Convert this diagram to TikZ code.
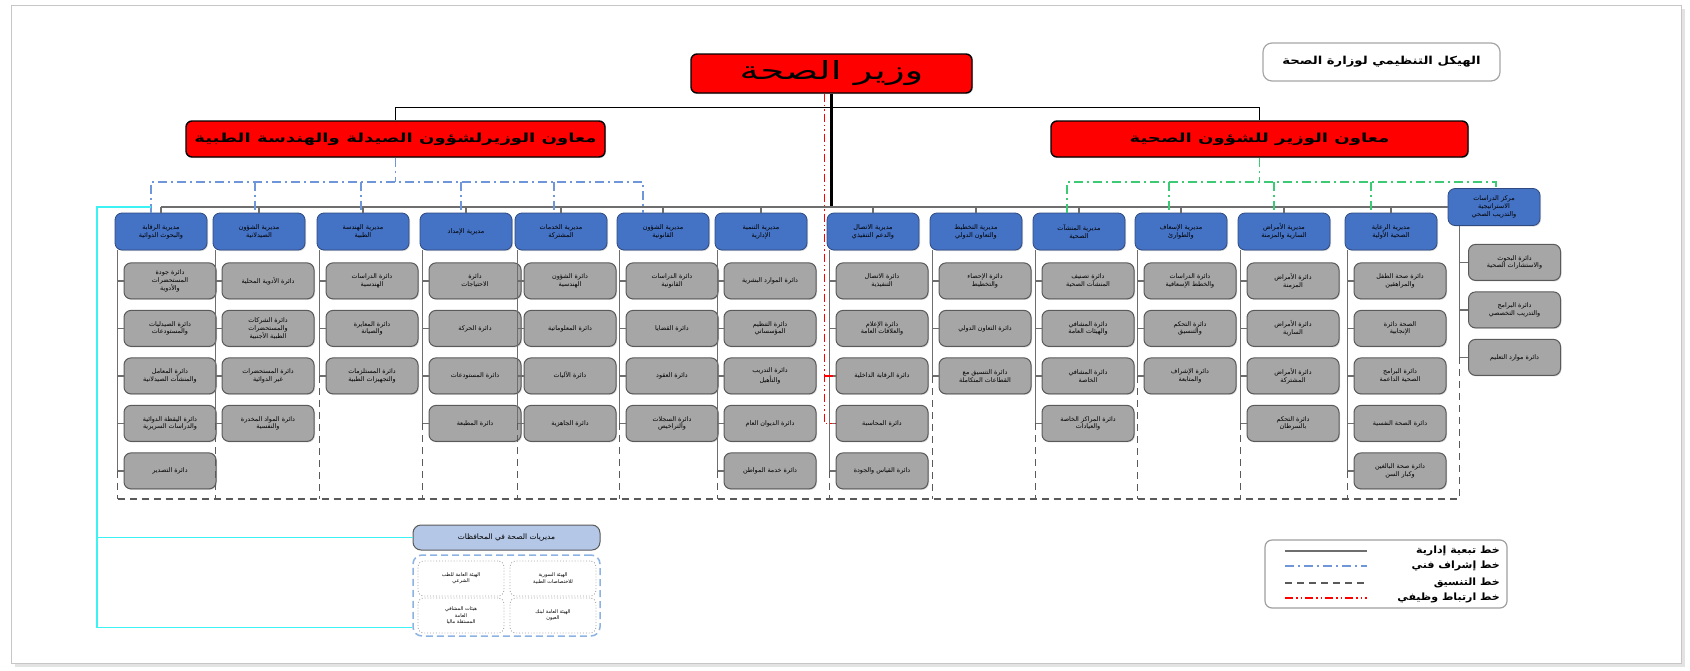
\documentclass[tikz,border=0pt]{standalone}
\usepackage{fontspec}
\usepackage{graphicx}
\usepackage{tikz}
\usetikzlibrary{positioning,shadows}
\newfontfamily\arabicfont[Script=Arabic]{DejaVu Sans}
\TeXXeTstate=1
\newcommand{\RL}[1]{\beginR#1\endR}
\definecolor{hdblue}{HTML}{4472C4}
\definecolor{hdedge}{HTML}{2F4A80}
\definecolor{deptgrey}{HTML}{A6A6A6}
\definecolor{deptedge}{HTML}{5A5A5A}
\definecolor{lngrey}{HTML}{6E6E6E}
\definecolor{techblue}{HTML}{6F96D8}
\definecolor{techgreen}{HTML}{3CCB74}
\definecolor{cyanc}{HTML}{3CF2F2}
\definecolor{govblue}{HTML}{B4C7E7}
\definecolor{grpblue}{HTML}{8DB3E2}
\tikzset{
	dirbox/.style={draw=hdedge,fill=hdblue,rounded corners=7pt,align=center,font=\arabicfont\fontsize{6.5}{8}\selectfont,minimum width=92pt,minimum height=37pt,inner sep=1pt,line width=0.8pt,drop shadow={shadow xshift=1pt,shadow yshift=-1pt,opacity=.3}},
	dept/.style={draw=deptedge,fill=deptgrey,rounded corners=7pt,align=center,font=\arabicfont\fontsize{6.4}{7.8}\selectfont,minimum width=92pt,minimum height=36pt,inner sep=1pt,line width=1pt,drop shadow={shadow xshift=1pt,shadow yshift=-1pt,opacity=.3}},
	chief/.style={draw=black,fill=red,rounded corners=6pt,line width=1.4pt,align=center,drop shadow={shadow xshift=1pt,shadow yshift=-1pt,opacity=.3}},
	subbox/.style={draw=gray!70,dotted,rounded corners=6pt,line width=0.9pt,align=center,font=\arabicfont\fontsize{5}{6.2}\selectfont,minimum width=86pt,minimum height=35pt,inner sep=1pt},
	admline/.style={draw=lngrey,line width=1.3pt},
	techline/.style={draw=techblue,line width=1.6pt,dash pattern=on 9pt off 4pt on 2pt off 4pt},
	greenline/.style={draw=techgreen,line width=1.6pt,dash pattern=on 9pt off 4pt on 2pt off 4pt},
	coordline/.style={draw=deptedge,line width=1.6pt,dash pattern=on 7pt off 5pt},
	funcline/.style={draw=red,line width=1.5pt,dash pattern=on 8pt off 3pt on 1.5pt off 3pt on 1.5pt off 3pt},
	cyanline/.style={draw=cyanc,line width=1.2pt},
	lgtext/.style={font=\arabicfont\bfseries\fontsize{10}{12}\selectfont,inner sep=0pt,anchor=east}
}

\begin{document}
\begin{tikzpicture}[x=1pt,y=-1pt,node distance=10.5pt]
	\useasboundingbox (0,0) rectangle (1690,670);
	\fill[gray!22] (15,9) rectangle (1685,667);
	\draw[gray!45,fill=white] (11,5) rectangle (1681,663);

	% top of the chart
	\node[draw=gray!70,line width=1.2pt,rounded corners=9pt,fill=white,minimum width=237pt,minimum height=38pt,font=\arabicfont\bfseries\fontsize{11}{13}\selectfont] (title) at (1381.5,62) {\scalebox{1.2}[1]{\RL{الهيكل التنظيمي لوزارة الصحة}}};
	\node[chief,minimum width=281pt,minimum height=39pt] (min) at (831.5,73.5) {\arabicfont\fontsize{25}{27}\selectfont\scalebox{1.55}[1]{\RL{وزير الصحة}}};
	\node[chief,minimum width=419pt,minimum height=36pt] (dl) at (395.5,139) {\arabicfont\bfseries\fontsize{12.5}{14}\selectfont\scalebox{1.45}[1]{\RL{معاون الوزيرلشؤون الصيدلة والهندسة الطبية}}};
	\node[chief,minimum width=417pt,minimum height=36pt] (dr) at (1259.5,139) {\arabicfont\bfseries\fontsize{12.5}{14}\selectfont\scalebox{1.45}[1]{\RL{معاون الوزير للشؤون الصحية}}};

	% directorates
	\node[dirbox] (h1) at (161,231.5) {\RL{مديرية الرقابة}\\\RL{والبحوث الدوائية}};
	\node[dirbox] (h2) at (259,231.5) {\RL{مديرية الشؤون}\\\RL{الصيدلانية}};
	\node[dirbox] (h3) at (363,231.5) {\RL{مديرية الهندسة}\\\RL{الطبية}};
	\node[dirbox] (h4) at (466,231.5) {\RL{مديرية الإمداد}};
	\node[dirbox] (h5) at (561,231.5) {\RL{مديرية الخدمات}\\\RL{المشتركة}};
	\node[dirbox] (h6) at (663,231.5) {\RL{مديرية الشؤون}\\\RL{القانونية}};
	\node[dirbox] (h7) at (761,231.5) {\RL{مديرية التنمية}\\\RL{الإدارية}};
	\node[dirbox] (h8) at (873,231.5) {\RL{مديرية الاتصال}\\\RL{والدعم التنفيذي}};
	\node[dirbox] (h9) at (976,231.5) {\RL{مديرية التخطيط}\\\RL{والتعاون الدولي}};
	\node[dirbox] (h10) at (1079,231.5) {\RL{مديرية المنشآت}\\\RL{الصحية}};
	\node[dirbox] (h11) at (1181,231.5) {\RL{مديرية الإسعاف}\\\RL{والطوارئ}};
	\node[dirbox] (h12) at (1284,231.5) {\RL{مديرية الأمراض}\\\RL{السارية والمزمنة}};
	\node[dirbox] (h13) at (1391,231.5) {\RL{مديرية الرعاية}\\\RL{الصحية الأولية}};
	\node[dirbox] (h14) at (1494,207) {\RL{مركز الدراسات}\\\RL{الاستراتيجية}\\\RL{والتدريب الصحي}};

	% departments
	\node[dept,below=12pt of h1,xshift=9pt] (d1-1) {\RL{دائرة جودة}\\\RL{المستحضرات}\\\RL{والأدوية}};
	\node[dept,below=of d1-1] (d1-2) {\RL{دائرة الصيدليات}\\\RL{والمستودعات}};
	\node[dept,below=of d1-2] (d1-3) {\RL{دائرة المعامل}\\\RL{والمنشآت الصيدلانية}};
	\node[dept,below=of d1-3] (d1-4) {\RL{دائرة اليقظة الدوائية}\\\RL{والدراسات السريرية}};
	\node[dept,below=of d1-4] (d1-5) {\RL{دائرة التصدير}};

	\node[dept,below=12pt of h2,xshift=9pt] (d2-1) {\RL{دائرة الأدوية المحلية}};
	\node[dept,below=of d2-1] (d2-2) {\RL{دائرة الشركات}\\\RL{والمستحضرات}\\\RL{الطبية الأجنبية}};
	\node[dept,below=of d2-2] (d2-3) {\RL{دائرة المستحضرات}\\\RL{غير الدوائية}};
	\node[dept,below=of d2-3] (d2-4) {\RL{دائرة المواد المخدرة}\\\RL{والنفسية}};

	\node[dept,below=12pt of h3,xshift=9pt] (d3-1) {\RL{دائرة الدراسات}\\\RL{الهندسية}};
	\node[dept,below=of d3-1] (d3-2) {\RL{دائرة المعايرة}\\\RL{والصيانة}};
	\node[dept,below=of d3-2] (d3-3) {\RL{دائرة المستلزمات}\\\RL{والتجهيزات الطبية}};

	\node[dept,below=12pt of h4,xshift=9pt] (d4-1) {\RL{دائرة}\\\RL{الاحتياجات}};
	\node[dept,below=of d4-1] (d4-2) {\RL{دائرة الحركة}};
	\node[dept,below=of d4-2] (d4-3) {\RL{دائرة المستودعات}};
	\node[dept,below=of d4-3] (d4-4) {\RL{دائرة المطبعة}};

	\node[dept,below=12pt of h5,xshift=9pt] (d5-1) {\RL{دائرة الشؤون}\\\RL{الهندسية}};
	\node[dept,below=of d5-1] (d5-2) {\RL{دائرة المعلوماتية}};
	\node[dept,below=of d5-2] (d5-3) {\RL{دائرة الآليات}};
	\node[dept,below=of d5-3] (d5-4) {\RL{دائرة الجاهزية}};

	\node[dept,below=12pt of h6,xshift=9pt] (d6-1) {\RL{دائرة الدراسات}\\\RL{القانونية}};
	\node[dept,below=of d6-1] (d6-2) {\RL{دائرة القضايا}};
	\node[dept,below=of d6-2] (d6-3) {\RL{دائرة العقود}};
	\node[dept,below=of d6-3] (d6-4) {\RL{دائرة السجلات}\\\RL{والتراخيص}};

	\node[dept,below=12pt of h7,xshift=9pt] (d7-1) {\RL{دائرة الموارد البشرية}};
	\node[dept,below=of d7-1] (d7-2) {\RL{دائرة التنظيم}\\\RL{المؤسساتي}};
	\node[dept,below=of d7-2] (d7-3) {\RL{دائرة التدريب}\\\RL{والتأهيل}};
	\node[dept,below=of d7-3] (d7-4) {\RL{دائرة الديوان العام}};
	\node[dept,below=of d7-4] (d7-5) {\RL{دائرة خدمة المواطن}};

	\node[dept,below=12pt of h8,xshift=9pt] (d8-1) {\RL{دائرة الاتصال}\\\RL{التنفيذية}};
	\node[dept,below=of d8-1] (d8-2) {\RL{دائرة الإعلام}\\\RL{والعلاقات العامة}};
	\node[dept,below=of d8-2] (d8-3) {\RL{دائرة الرقابة الداخلية}};
	\node[dept,below=of d8-3] (d8-4) {\RL{دائرة المحاسبة}};
	\node[dept,below=of d8-4] (d8-5) {\RL{دائرة القياس والجودة}};

	\node[dept,below=12pt of h9,xshift=9pt] (d9-1) {\RL{دائرة الإحصاء}\\\RL{والتخطيط}};
	\node[dept,below=of d9-1] (d9-2) {\RL{دائرة التعاون الدولي}};
	\node[dept,below=of d9-2] (d9-3) {\RL{دائرة التنسيق مع}\\\RL{القطاعات المتكاملة}};

	\node[dept,below=12pt of h10,xshift=9pt] (d10-1) {\RL{دائرة تصنيف}\\\RL{المنشآت الصحية}};
	\node[dept,below=of d10-1] (d10-2) {\RL{دائرة المشافي}\\\RL{والهيئات العامة}};
	\node[dept,below=of d10-2] (d10-3) {\RL{دائرة المشافي}\\\RL{الخاصة}};
	\node[dept,below=of d10-3] (d10-4) {\RL{دائرة المراكز الخاصة}\\\RL{والعيادات}};

	\node[dept,below=12pt of h11,xshift=9pt] (d11-1) {\RL{دائرة الدراسات}\\\RL{والخطط الإسعافية}};
	\node[dept,below=of d11-1] (d11-2) {\RL{دائرة التحكم}\\\RL{والتنسيق}};
	\node[dept,below=of d11-2] (d11-3) {\RL{دائرة الإشراف}\\\RL{والمتابعة}};

	\node[dept,below=12pt of h12,xshift=9pt] (d12-1) {\RL{دائرة الأمراض}\\\RL{المزمنة}};
	\node[dept,below=of d12-1] (d12-2) {\RL{دائرة الأمراض}\\\RL{السارية}};
	\node[dept,below=of d12-2] (d12-3) {\RL{دائرة الأمراض}\\\RL{المشتركة}};
	\node[dept,below=of d12-3] (d12-4) {\RL{دائرة التحكم}\\\RL{بالسرطان}};

	\node[dept,below=12pt of h13,xshift=9pt] (d13-1) {\RL{دائرة صحة الطفل}\\\RL{والمراهقين}};
	\node[dept,below=of d13-1] (d13-2) {\RL{الصحة دائرة}\\\RL{الإنجابية}};
	\node[dept,below=of d13-2] (d13-3) {\RL{دائرة البرامج}\\\RL{الصحية الداعمة}};
	\node[dept,below=of d13-3] (d13-4) {\RL{دائرة الصحة النفسية}};
	\node[dept,below=of d13-4] (d13-5) {\RL{دائرة صحة البالغين}\\\RL{وكبار السن}};

	\node[dept,below=18pt of h14,xshift=20.5pt] (d14-1) {\RL{دائرة البحوث}\\\RL{والاستشارات الصحية}};
	\node[dept,below=of d14-1] (d14-2) {\RL{دائرة البرامج}\\\RL{والتدريب التخصصي}};
	\node[dept,below=of d14-2] (d14-3) {\RL{دائرة موارد التعليم}};

	% administrative lines
	\coordinate (bus) at (0,207);
	\coordinate (bot) at (0,499);
	\draw[line width=1.3pt] (dl.north) -- ++(0,-13) -| (dr.north);
	\draw[line width=2.2pt] (min.south) -- (min.south |- bus);
	\draw[admline] (h1.north |- bus) -- (h14.west);
	\foreach \i in {1,...,13} \draw[admline] (h\i.north |- bus) -- (h\i.north);
	\foreach \c/\n in {1/5,2/4,3/3,4/4,5/4,6/4,7/5,8/5,9/3,10/4,11/3,12/4,13/5}{
		\coordinate (v\c) at ([xshift=3pt]h\c.south west);
		\draw[admline] (v\c) -- (v\c |- d\c-\n.west);
		\foreach \r in {1,...,\n} \draw[admline] (v\c |- d\c-\r.west) -- (d\c-\r.west);
		\draw[coordline] (v\c |- d\c-\n.west) -- (v\c |- bot);
	}
	\coordinate (v14) at ([xshift=12pt]h14.south west);
	\draw[admline] (v14) -- (v14 |- d14-3.west);
	\foreach \r in {1,2,3} \draw[admline] (v14 |- d14-\r.west) -- (d14-\r.west);
	\draw[coordline] (v14 |- d14-3.west) -- (v14 |- bot);
	\draw[coordline] (v1 |- bot) -- (v14 |- bot);

	% technical supervision
	\draw[techline] (dl.south) -- ++(0,24) coordinate (bj);
	\draw[techline] ([xshift=-10pt]h1.north) |- ([xshift=-20pt]h6.north |- bj) -- ([xshift=-20pt]h6.north);
	\foreach \i/\s in {2/-4,3/-2,4/-5,5/-7} \draw[techline] ([xshift=\s pt]h\i.north |- bj) -- ([xshift=\s pt]h\i.north);
	\draw[greenline] (dr.south) -- ++(0,24) coordinate (gj);
	\draw[greenline] ([xshift=-12pt]h10.north) |- ([xshift=2pt]h14.north |- gj) -- ([xshift=2pt]h14.north);
	\foreach \i/\s in {11/-12,12/-10,13/-20} \draw[greenline] ([xshift=\s pt]h\i.north |- gj) -- ([xshift=\s pt]h\i.north);

	% functional link
	\coordinate (rj) at ([xshift=-7pt]min.south);
	\draw[funcline] (rj) |- (d8-4.west);
	\draw[funcline] (rj |- d8-3.west) -- (d8-3.west);

	% governorates
	\node[draw=deptedge,fill=govblue,rounded corners=8pt,line width=1pt,minimum width=187pt,minimum height=25pt,font=\arabicfont\fontsize{7.5}{9}\selectfont] (gov) at (506.5,537.5) {\RL{مديريات الصحة في المحافظات}};
	\node[draw=grpblue,line width=1.5pt,dash pattern=on 7pt off 4pt,rounded corners=9pt,minimum width=187pt,minimum height=81pt] (grp) at (506.5,595.5) {};
	\node[subbox] (g1) at (553,578.5) {\RL{الهيئة السورية}\\\RL{للاختصاصات الطبية}};
	\node[subbox] (g2) at (461,578.5) {\RL{الهيئة العامة للطب}\\\RL{الشرعي}};
	\node[subbox] (g3) at (553,615.5) {\RL{الهيئة العامة لبنك}\\\RL{العيون}};
	\node[subbox] (g4) at (461,615.5) {\RL{هيئات المشافي}\\\RL{العامة}\\\RL{المستقلة ماليا}};
	\coordinate (cy) at (97,207);
	\draw[cyanline] ([xshift=-10pt]h1.north |- bus) -- (cy) |- ([yshift=9pt]grp.south west);
	\draw[cyanline] (cy |- gov.west) -- (gov.west);

	% legend
	\node[draw=gray!75,line width=1.2pt,rounded corners=7pt,minimum width=242pt,minimum height=68pt] (lgd) at (1386,574) {};
	\foreach \y/\s/\t in {551/admline/{خط تبعية إدارية},566/techline/{خط إشراف فني},583/coordline/{خط التنسيق},598/funcline/{خط ارتباط وظيفي}}{
		\node[lgtext] (lg\y) at (1500,\y) {\scalebox{1.1}[1]{\RL{\t}}};
		\coordinate (la\y) at (1285,\y);
		\coordinate (lb\y) at (1367,\y);
		\draw[\s] (la\y) -- (lb\y);
	}
\end{tikzpicture}
\end{document}
